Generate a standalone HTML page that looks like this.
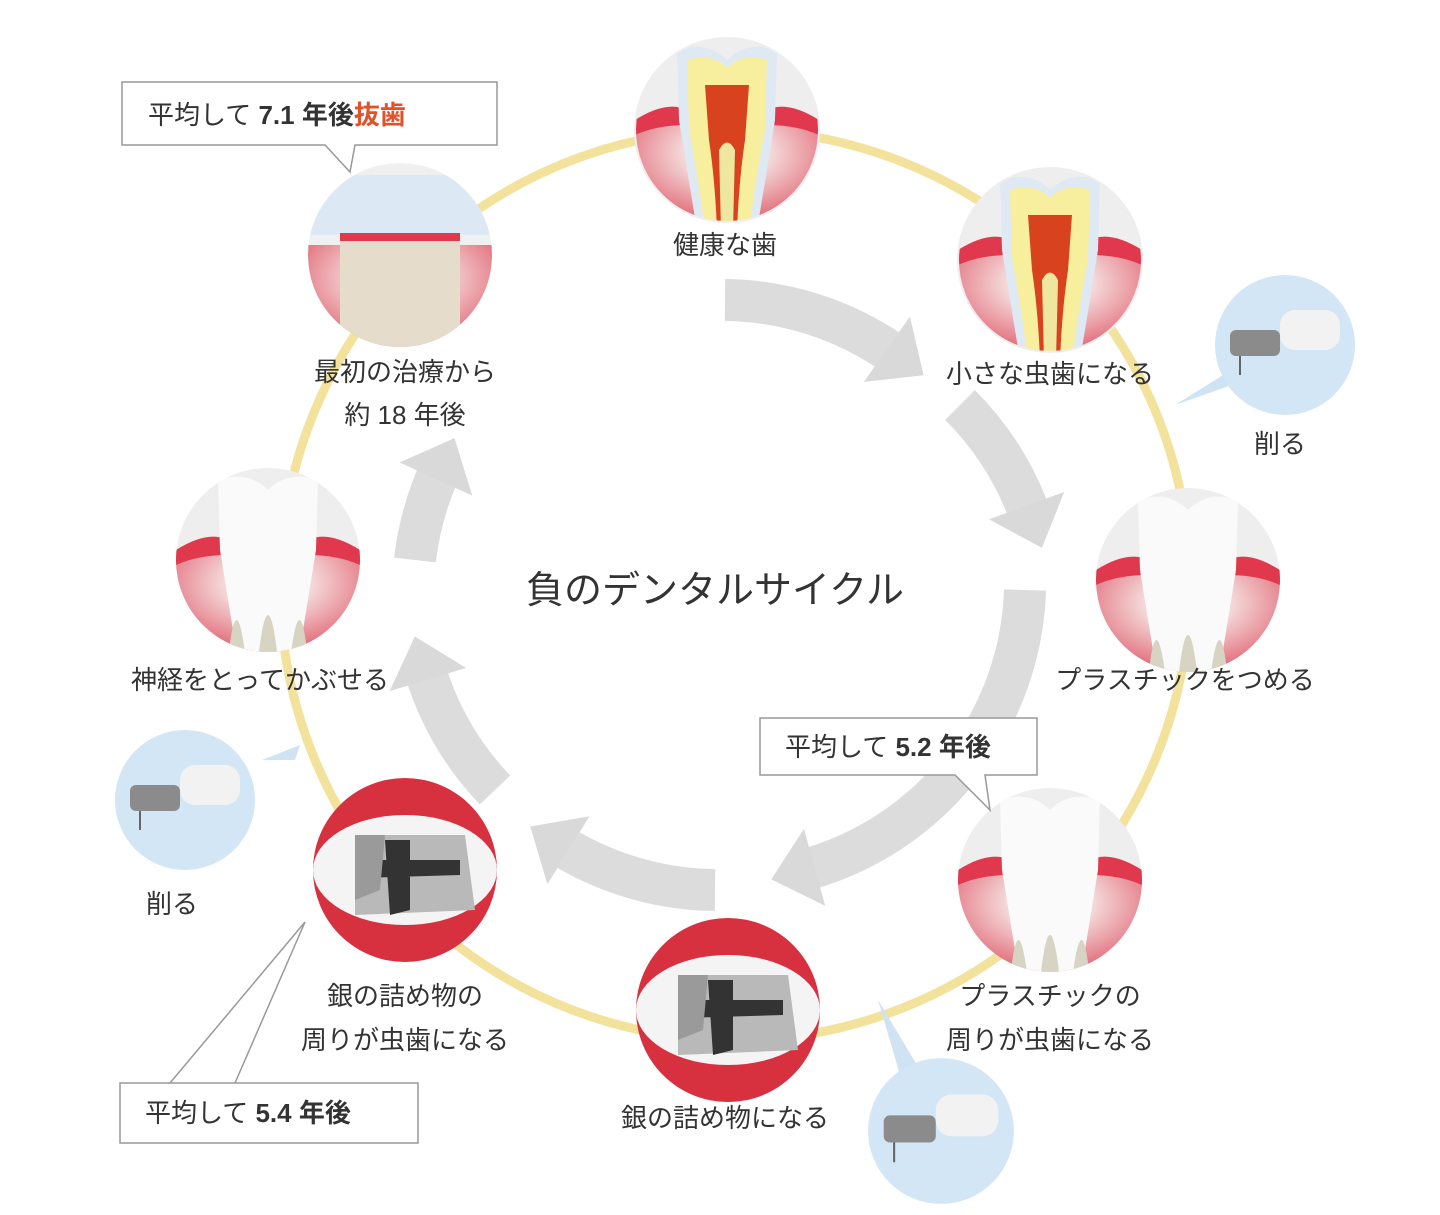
<!DOCTYPE html>
<html><head><meta charset="utf-8"><style>
html,body{margin:0;padding:0;background:#fff;}
svg{display:block;}
text{font-family:"Liberation Sans","Noto Sans CJK JP",sans-serif;fill:#333;}
</style></head><body>
<svg width="1440" height="1215" viewBox="0 0 1440 1215" xmlns="http://www.w3.org/2000/svg">
<defs>
<clipPath id="cc"><circle cx="0" cy="0" r="92"/></clipPath>
<radialGradient id="gum" cx="0.5" cy="0.3" r="0.8">
<stop offset="0.3" stop-color="#f4d8d8"/><stop offset="1" stop-color="#d9364a"/></radialGradient>
<symbol id="toothA" viewBox="-92 -92 184 184" overflow="visible">
<g clip-path="url(#cc)">
<rect x="-92" y="-92" width="184" height="184" fill="#eeeeee"/>
<rect x="-92" y="-10" width="184" height="110" fill="url(#gum)"/>
<path d="M-92,-10 Q-60,-30 -40,-20 L-40,-5 Q-70,-5 -92,5Z M92,-10 Q60,-30 40,-20 L40,-5 Q70,-5 92,5Z" fill="#e0394d"/>
<path d="M-50,-80 Q-20,-90 0,-70 Q20,-90 50,-80 L48,-10 Q40,40 30,100 L-30,100 Q-40,40 -48,-10Z" fill="#dfe9f3"/>
<path d="M-40,-70 Q-15,-78 0,-62 Q15,-78 40,-70 L38,0 Q30,40 22,100 L-22,100 Q-30,40 -38,0Z" fill="#f7ef9e"/>
<path d="M-22,-45 L22,-45 L18,10 Q12,50 10,100 L-10,100 Q-12,50 -18,10Z" fill="#d8421f"/>
<path d="M-8,20 Q0,5 8,20 L6,100 L-6,100Z" fill="#efe7a0"/>
</g>
<circle r="92" fill="none" stroke="#eee" stroke-width="2"/>
</symbol>
<symbol id="toothW" viewBox="-92 -92 184 184" overflow="visible">
<g clip-path="url(#cc)">
<rect x="-92" y="-92" width="184" height="184" fill="#eeeeee"/>
<rect x="-92" y="-10" width="184" height="110" fill="url(#gum)"/>
<path d="M-92,-10 Q-60,-30 -40,-20 L-40,-5 Q-70,-5 -92,5Z M92,-10 Q60,-30 40,-20 L40,-5 Q70,-5 92,5Z" fill="#e0394d"/>
<path d="M-50,-80 Q-20,-90 0,-70 Q20,-90 50,-80 L48,-10 Q40,40 30,100 L-30,100 Q-40,40 -48,-10Z" fill="#fafafa"/>
<path d="M-10,100 Q0,10 10,100Z" fill="#d8d4c4"/>
<path d="M-40,100 Q-32,20 -22,100Z M40,100 Q32,20 22,100Z" fill="#d8d4c4"/>
</g>
</symbol>
<symbol id="toothS" viewBox="-92 -92 184 184" overflow="visible">
<g clip-path="url(#cc)">
<rect x="-92" y="-92" width="184" height="184" fill="#d7303f"/>
<ellipse cx="0" cy="0" rx="92" ry="55" fill="#f4f4f4"/>
<path d="M-50,-35 L60,-35 L70,40 L-50,45Z" fill="#b9b9b9"/>
<path d="M-20,-30 L5,-30 L5,40 L-15,45Z M-45,-10 L55,-10 L55,5 L-45,8Z" fill="#333"/>
<path d="M-50,-35 L-20,-35 L-25,20 L-50,30Z" fill="#9a9a9a"/>
</g>
</symbol>
<symbol id="toothN" viewBox="-92 -92 184 184" overflow="visible">
<g clip-path="url(#cc)">
<rect x="-92" y="-92" width="184" height="184" fill="#f0f0f0"/>
<rect x="-92" y="-80" width="184" height="60" fill="#dce9f5"/>
<rect x="-92" y="-10" width="184" height="110" fill="url(#gum)"/>
<path d="M-60,-20 L60,-20 L60,100 L-60,100Z" fill="#e6dccb"/>
<rect x="-60" y="-22" width="120" height="8" fill="#e0394d"/>
</g>
</symbol>
<symbol id="drill" viewBox="-72 -72 144 144" overflow="visible">
<circle r="70" fill="#d3e6f5"/>
<rect x="-55" y="-15" width="50" height="26" rx="6" fill="#8b8b8b"/>
<rect x="-5" y="-35" width="60" height="40" rx="15" fill="#f2f2f2"/>
<line x1="-45" y1="11" x2="-45" y2="30" stroke="#666" stroke-width="2"/>
</symbol>
<marker id="ah" markerUnits="userSpaceOnUse" markerWidth="90" markerHeight="90" refX="10" refY="40" orient="auto">
<path d="M0,0 L45,40 L0,80Z" fill="#d9d9d9"/>
</marker>
</defs>

<!-- yellow ring -->
<circle cx="735" cy="585" r="455" fill="none" stroke="#f2e29c" stroke-width="9"/>

<!-- gray arrows (center 720,590 r 300) -->
<g fill="none" stroke="#dcdcdc" stroke-width="42" marker-end="url(#ah)">
<path d="M725,300 A300,300 0 0 1 895,355"/>
<path d="M960,405 A300,300 0 0 1 1030,515"/>
<path d="M1025,590 A300,300 0 0 1 805,870"/>
<path d="M715,890 A300,300 0 0 1 560,845"/>
<path d="M495,790 A300,300 0 0 1 425,670"/>
<path d="M415,560 A300,300 0 0 1 440,470"/>
</g>

<!-- drill pointers -->
<path d="M1175,405 L1228,372 L1232,385Z" fill="#cfe3f3"/>
<path d="M262,760 L300,745 L295,760Z" fill="#cfe3f3"/>
<path d="M878,1000 L920,1070 L900,1075Z" fill="#cfe3f3"/>

<!-- teeth -->
<use href="#toothA" x="635" y="38" width="184" height="184"/>
<use href="#toothA" x="958" y="168" width="184" height="184"/>
<use href="#toothW" x="1096" y="488" width="184" height="184"/>
<use href="#toothW" x="958" y="788" width="184" height="184"/>
<use href="#toothS" x="636" y="918" width="184" height="184"/>
<use href="#toothS" x="313" y="778" width="184" height="184"/>
<use href="#toothW" x="176" y="468" width="184" height="184"/>
<use href="#toothN" x="308" y="163" width="184" height="184"/>

<use href="#drill" x="1213" y="273" width="144" height="144"/>
<use href="#drill" x="113" y="728" width="144" height="144"/>
<use href="#drill" x="866" y="1056" width="150" height="150"/>

<!-- labels -->
<g font-size="26" text-anchor="middle">
<text x="725" y="254">健康な歯</text>
<text x="1050" y="383">小さな虫歯になる</text>
<text x="1280" y="453">削る</text>
<text x="1185" y="689">プラスチックをつめる</text>
<text x="1050" y="1005">プラスチックの</text>
<text x="1050" y="1049">周りが虫歯になる</text>
<text x="725" y="1127">銀の詰め物になる</text>
<text x="405" y="1005">銀の詰め物の</text>
<text x="405" y="1049">周りが虫歯になる</text>
<text x="172" y="913">削る</text>
<text x="260" y="689">神経をとってかぶせる</text>
<text x="405" y="381">最初の治療から</text>
<text x="405" y="424">約 18 年後</text>
</g>
<text x="715" y="603" font-size="38" text-anchor="middle" fill="#222">負のデンタルサイクル</text>

<!-- callouts -->
<path d="M122,82 H497 V145 H355 L350,172 L325,145 H122Z" fill="#fff" stroke="#999" stroke-width="1.5"/>
<text x="148" y="124" font-size="26">平均して <tspan font-weight="bold">7.1 年後</tspan><tspan font-weight="bold" fill="#e0522a">抜歯</tspan></text>

<path d="M760,718 H1037 V775 H985 L990,810 L955,775 H760Z" fill="#fff" stroke="#999" stroke-width="1.5"/>
<text x="785" y="756" font-size="26">平均して <tspan font-weight="bold">5.2 年後</tspan></text>

<path d="M305,922 L170,1083 M305,922 L235,1083" stroke="#999" stroke-width="1.5" fill="none"/>
<rect x="120" y="1083" width="298" height="60" fill="#fff" stroke="#999" stroke-width="1.5"/>
<text x="145" y="1122" font-size="26">平均して <tspan font-weight="bold">5.4 年後</tspan></text>
</svg>
</body></html>
